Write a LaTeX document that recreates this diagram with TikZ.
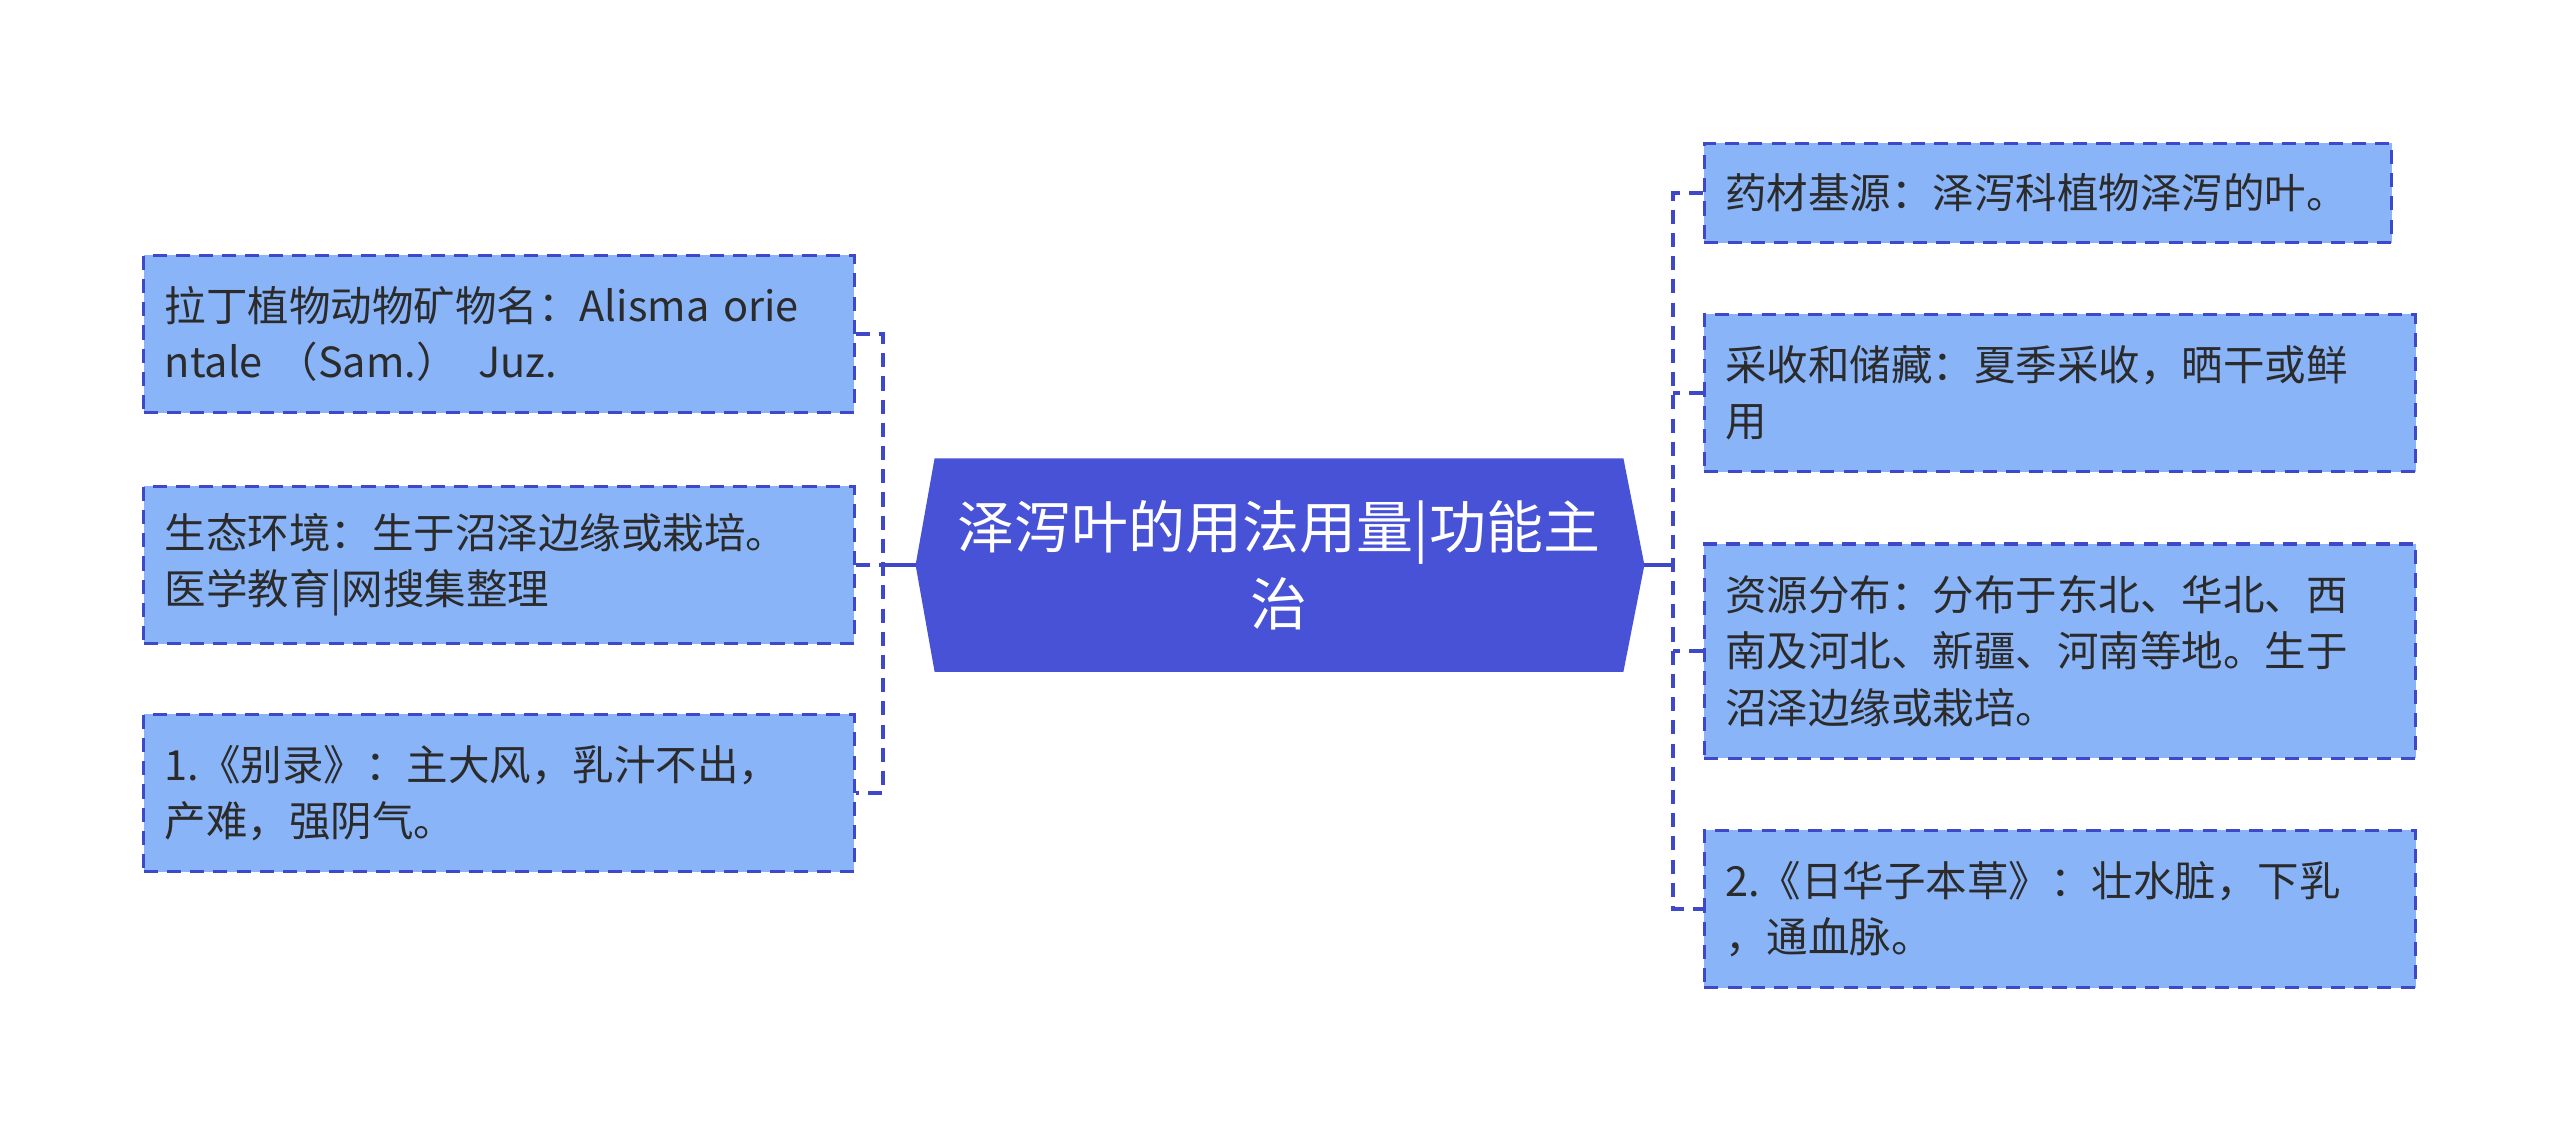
\documentclass[tikz,border=0pt]{standalone}
\usepackage{fontspec}
\setmainfont{Noto Sans CJK SC}
\usetikzlibrary{positioning,backgrounds,calc}
\definecolor{leaffill}{HTML}{8AB4F8}
\definecolor{edge}{HTML}{3F48C8}
\definecolor{hubfill}{HTML}{4752D6}
\definecolor{ink}{HTML}{2B2B2B}
\tikzset{
  leaf/.style={rectangle, draw=edge, fill=leaffill, dash pattern=on 4pt off 2.6pt,
               line width=0.9pt, text=ink, align=left, inner xsep=0.21cm, inner ysep=0pt,
               font=\fontsize{11.8pt}{16pt}\selectfont, minimum height=1.57cm},
  leftleaf/.style={leaf, minimum width=7.10cm, text width=6.68cm},
  rightleaf/.style={leaf, minimum width=7.11cm, text width=6.69cm},
  hub/.style={rectangle, text=white, align=center, minimum width=6.87cm,
              minimum height=2.12cm, font=\fontsize{16.2pt}{21.9pt}\selectfont},
  branch/.style={draw=edge, line width=1.1pt, dash pattern=on 4pt off 2.6pt},
  stem/.style={draw=edge, line width=1.1pt}
}
\begin{document}
\begin{tikzpicture}[x=0.01cm, y=-0.01cm]
\useasboundingbox (0,0) rectangle (2560,1132);
% centre topic
\node[hub] (hub) at (1279,565) {泽泻叶的用法用量|功能主\\治};
\coordinate (hubl) at ([xshift=-0.19cm]hub.west);
\coordinate (hubr) at ([xshift=0.21cm]hub.east);
\begin{scope}[on background layer]
\fill[hubfill] (hub.north west) -- (hub.north east) -- (hubr) -- (hub.south east)
  -- (hub.south west) -- (hubl) -- cycle;
\end{scope}
% left side
\node[leftleaf] (l1) at (499,334) {拉丁植物动物矿物名：Alisma orie\\ntale （Sam.） Juz.};
\node[leftleaf] (l2) at (499,565) {生态环境：生于沼泽边缘或栽培。\\医学教育|网搜集整理};
\node[leftleaf] (l3) at (499,793) {1.《别录》：主大风，乳汁不出，\\产难，强阴气。};
% right side
\node[rightleaf, minimum width=6.87cm, text width=6.45cm, minimum height=0.99cm] (r1) at (2048,193) {药材基源：泽泻科植物泽泻的叶。};
\node[rightleaf] (r2) at (2060,393) {采收和储藏：夏季采收，晒干或鲜\\用};
\node[rightleaf, minimum height=2.14cm] (r3) at (2060,651) {资源分布：分布于东北、华北、西\\南及河北、新疆、河南等地。生于\\沼泽边缘或栽培。};
\node[rightleaf] (r4) at (2060,909) {2.《日华子本草》：壮水脏，下乳\\，通血脉。};
% connectors
\coordinate (lj) at (883,565);
\coordinate (rj) at (1673,565);
\draw[stem] (hubl) -- (lj);
\draw[stem] (hubr) -- (rj);
\draw[branch] (l1.east) -- (l1.east -| lj) -- (l3.east -| lj) -- (l3.east);
\draw[branch] (l2.east) -- (lj);
\draw[branch] (r1.west) -- (r1.west -| rj) -- (r4.west -| rj) -- (r4.west);
\foreach \n in {r2,r3}
  \draw[branch] (\n.west) -- (\n.west -| rj);
\end{tikzpicture}
\end{document}
